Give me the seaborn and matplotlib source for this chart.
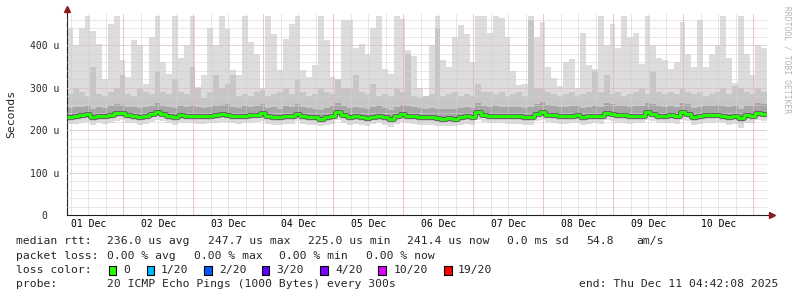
import numpy as np
import pandas as pd
import matplotlib
matplotlib.use("Agg")
import matplotlib.pyplot as plt
import matplotlib.dates as mdates
from matplotlib.patches import Rectangle
from matplotlib.ticker import MultipleLocator, FixedLocator
import seaborn as sns

# ---------------- data ----------------
start_time = "2025-12-01 04:42:08"
step = "2h"

# median rtt per 2-hour bin (microseconds)
median_rtt = [
    231, 233, 235, 238, 231, 234, 233, 236, 241, 241, 236, 234, 230, 233, 239, 242, 239, 234, 231, 236, 234, 234, 233, 233,
    234, 236, 238, 237, 234, 233, 234, 235, 237, 241, 233, 231, 230, 233, 233, 239, 233, 231, 230, 227, 231, 233, 242, 235,
    231, 233, 231, 228, 232, 234, 231, 226, 233, 238, 234, 233, 231, 230, 230, 228, 227, 228, 227, 230, 233, 231, 242, 237,
    234, 234, 234, 233, 233, 233, 230, 231, 239, 243, 237, 236, 233, 233, 234, 236, 231, 233, 234, 233, 241, 239, 236, 236,
    233, 234, 234, 242, 239, 234, 234, 236, 233, 242, 239, 231, 233, 236, 236, 237, 234, 231, 233, 228, 236, 234, 241, 239,
]
# slowest ping (top of the light smoke)
ping_max = [
    440, 400, 440, 470, 435, 404, 321, 451, 470, 365, 325, 412, 400, 310, 420, 470, 361, 333, 470, 370, 400, 470, 302, 330,
    440, 400, 470, 439, 341, 330, 470, 408, 380, 296, 470, 427, 341, 416, 451, 470, 341, 325, 353, 470, 412, 325, 314, 459,
    460, 395, 404, 380, 440, 470, 345, 333, 470, 463, 388, 376, 300, 280, 400, 470, 365, 350, 420, 447, 427, 360, 470, 470,
    430, 470, 465, 420, 340, 307, 310, 470, 420, 455, 350, 323, 305, 360, 369, 300, 430, 353, 345, 470, 400, 451, 395, 470,
    420, 430, 355, 470, 400, 370, 365, 345, 360, 455, 380, 350, 460, 350, 380, 400, 470, 370, 312, 470, 380, 330, 400, 395,
]
# upper edge of the medium smoke
ping_hi2 = [
    285, 300, 290, 280, 350, 285, 280, 290, 300, 330, 285, 280, 300, 290, 285, 340, 290, 285, 320, 290, 285, 350, 300, 275,
    290, 330, 300, 310, 330, 280, 285, 280, 290, 295, 280, 285, 290, 300, 285, 320, 290, 280, 285, 300, 290, 285, 320, 300,
    300, 330, 290, 285, 310, 280, 285, 280, 300, 290, 380, 280, 275, 280, 285, 440, 280, 285, 290, 280, 285, 280, 310, 290,
    290, 285, 290, 280, 285, 290, 280, 460, 300, 300, 290, 285, 280, 285, 290, 280, 285, 290, 340, 290, 330, 285, 290, 280,
    285, 290, 300, 285, 340, 290, 285, 290, 285, 300, 290, 285, 290, 280, 285, 290, 300, 285, 305, 300, 290, 285, 300, 290,
]
# upper edge of the dark smoke
ping_hi3 = [
    252, 255, 254, 258, 250, 255, 252, 256, 262, 260, 255, 254, 252, 255, 258, 263, 258, 254, 252, 256, 255, 256, 254, 252,
    255, 258, 260, 262, 255, 252, 256, 255, 258, 262, 252, 254, 250, 256, 255, 262, 254, 252, 250, 248, 252, 256, 265, 258,
    252, 255, 252, 250, 254, 256, 252, 248, 255, 260, 256, 254, 252, 250, 252, 250, 249, 250, 249, 252, 255, 252, 265, 258,
    255, 256, 255, 254, 255, 254, 252, 254, 262, 266, 260, 258, 255, 254, 256, 258, 252, 255, 258, 255, 263, 262, 258, 257,
    255, 256, 256, 264, 262, 256, 255, 258, 255, 265, 262, 252, 255, 258, 258, 260, 256, 254, 256, 250, 258, 256, 265, 262,
]
# lower edge of the dark smoke
ping_lo3 = [
    226, 228, 230, 233, 226, 229, 228, 231, 236, 236, 231, 229, 225, 228, 234, 237, 234, 229, 226, 231, 229, 229, 228, 228,
    229, 231, 233, 232, 229, 228, 229, 230, 232, 236, 228, 226, 225, 228, 228, 234, 228, 226, 225, 222, 226, 228, 237, 230,
    226, 228, 226, 223, 227, 229, 226, 221, 228, 233, 229, 228, 226, 225, 225, 223, 222, 223, 222, 225, 228, 226, 237, 232,
    229, 229, 229, 228, 228, 228, 225, 226, 234, 238, 232, 231, 228, 228, 229, 231, 226, 228, 229, 228, 236, 234, 231, 231,
    228, 229, 229, 237, 234, 229, 229, 231, 228, 237, 234, 226, 228, 231, 231, 232, 229, 226, 228, 221, 231, 229, 236, 234,
]
# lower edge of the medium smoke
ping_lo2 = [
    222, 224, 226, 229, 222, 225, 224, 227, 232, 232, 227, 225, 221, 224, 230, 233, 230, 225, 222, 227, 225, 225, 224, 224,
    225, 227, 229, 228, 225, 224, 225, 226, 228, 232, 224, 222, 221, 224, 224, 230, 224, 222, 221, 218, 222, 224, 233, 226,
    222, 224, 222, 219, 223, 225, 222, 217, 224, 229, 225, 224, 222, 221, 221, 219, 218, 219, 218, 221, 224, 222, 233, 228,
    225, 225, 225, 224, 224, 224, 221, 222, 230, 234, 228, 227, 224, 224, 225, 227, 222, 224, 225, 224, 232, 230, 227, 227,
    224, 225, 225, 233, 230, 225, 225, 227, 224, 233, 230, 222, 224, 227, 227, 228, 225, 222, 224, 217, 227, 225, 232, 230,
]
# fastest ping (bottom of the light smoke)
ping_min = [
    214, 215, 217, 220, 213, 216, 215, 218, 222, 223, 218, 216, 212, 215, 220, 224, 221, 216, 213, 218, 216, 216, 215, 215,
    216, 218, 220, 219, 216, 215, 216, 217, 219, 222, 215, 213, 212, 215, 215, 221, 215, 213, 212, 209, 213, 215, 223, 217,
    213, 215, 213, 210, 214, 216, 213, 208, 215, 220, 216, 215, 213, 212, 212, 210, 209, 210, 209, 212, 215, 213, 224, 219,
    216, 216, 216, 215, 215, 215, 212, 213, 221, 225, 219, 218, 215, 215, 216, 218, 213, 215, 216, 215, 223, 221, 218, 218,
    215, 216, 216, 224, 221, 216, 216, 218, 215, 224, 221, 213, 215, 218, 218, 219, 216, 213, 215, 206, 218, 216, 223, 221,
]

day_labels = ["01 Dec", "02 Dec", "03 Dec", "04 Dec", "05 Dec",
              "06 Dec", "07 Dec", "08 Dec", "09 Dec", "10 Dec"]
y_ticks = [0, 100, 200, 300, 400]
y_tick_labels = ["0  ", "100 u", "200 u", "300 u", "400 u"]

rtt_stats = ["median rtt:", "236.0 us avg", "247.7 us max", "225.0 us min",
             "241.4 us now", "0.0 ms sd", "54.8", "am/s"]
loss_stats = ["packet loss:", "0.00 % avg", "0.00 % max", "0.00 % min", "0.00 % now"]
loss_labels = ["0", "1/20", "2/20", "3/20", "4/20", "10/20", "19/20"]
loss_colors = ["#26ff00", "#00b8ff", "#0059ff", "#5e00ff", "#7e00ff", "#dd00ff", "#ff0000"]
probe_text = "20 ICMP Echo Pings (1000 Bytes) every 300s"
end_text = "end: Thu Dec 11 04:42:08 2025"

n = len(median_rtt)
for arr in (ping_max, ping_hi2, ping_hi3, ping_lo3, ping_lo2, ping_min):
    assert len(arr) == n

# ---------------- figure ----------------
sns.set_style("white")
MONO = ["DejaVu Sans Mono"]
plt.rcParams["font.family"] = MONO

W, H = 797, 297
fig = plt.figure(figsize=(W / 100, H / 100), dpi=100)
ax_l, ax_r, ax_t, ax_b = 67, 767, 14, 215
ax = fig.add_axes([ax_l / W, 1 - ax_b / H, (ax_r - ax_l) / W, (ax_b - ax_t) / H])

edges = pd.date_range(start_time, periods=n + 1, freq=step)

def ext(a):
    return np.append(np.asarray(a, float), a[-1])

ax.fill_between(edges, ext(ping_min), ext(ping_max), step="post", color="#dcdcdc", lw=0, zorder=1)
ax.fill_between(edges, ext(ping_lo2), ext(ping_hi2), step="post", color="#c6c6c6", lw=0, zorder=1.1)
ax.fill_between(edges, ext(ping_lo3), ext(ping_hi3), step="post", color="#a6a6a6", lw=0, zorder=1.2)

df = pd.DataFrame({"time": edges, "rtt": ext(median_rtt)})
sns.lineplot(data=df, x="time", y="rtt", ax=ax, estimator=None, drawstyle="steps-post",
             color="#5c5c5c", lw=3.4, zorder=3, solid_capstyle="butt")
sns.lineplot(data=df, x="time", y="rtt", ax=ax, estimator=None, drawstyle="steps-post",
             color="#22ff00", lw=2.1, zorder=3.1, solid_capstyle="butt")

ax.set_xlim(edges[0], edges[-1])
ax.set_ylim(0, 474)

# x axis: labels at noon, grid every 6h, red at midnight
noons = pd.date_range("2025-12-01 12:00", periods=len(day_labels), freq="D")
ax.set_xticks(noons)
ax.set_xticklabels(day_labels)
ax.xaxis.set_minor_locator(mdates.HourLocator(byhour=[0, 6, 12, 18]))
ax.xaxis.remove_overlapping_locs = False
ax.yaxis.set_major_locator(FixedLocator(y_ticks))
ax.set_yticklabels(y_tick_labels)
ax.yaxis.set_minor_locator(MultipleLocator(20))
ax.yaxis.remove_overlapping_locs = False

ax.set_axisbelow(False)
dot = (0, (1, 1))
ax.grid(False)
ax.grid(which="minor", axis="both", color="#d0d0d0", lw=0.72, ls=dot)
ax.grid(which="major", axis="y", color="#f0a8a8", lw=0.72, ls=dot)
midnights = pd.date_range("2025-12-02", "2025-12-11", freq="D")
for m in midnights:
    ax.axvline(m, color="#f0a8a8", lw=0.72, ls=dot, zorder=2.6)

ax.tick_params(axis="x", which="major", length=0, pad=3.2, labelsize=7, colors="black")
ax.tick_params(axis="x", which="minor", length=2, width=0.7, color="#b0b0b0", direction="out")
ax.tick_params(axis="y", which="major", length=0, pad=5.3, labelsize=7)
ax.tick_params(axis="y", which="minor", length=2, width=0.7, color="#b0b0b0", direction="out")
ax.set_xlabel("")
ax.set_ylabel("")

for s in ("top", "right"):
    ax.spines[s].set_visible(False)
for s in ("left", "bottom"):
    ax.spines[s].set_color("#202020")
    ax.spines[s].set_linewidth(0.8)

# axis arrows
pw, ph = ax_r - ax_l, ax_b - ax_t
ax.plot([0, 0], [1, 1 + 4 / ph], transform=ax.transAxes, color="#202020", lw=0.8, clip_on=False)
ax.plot([1, 1 + 4 / pw], [0, 0], transform=ax.transAxes, color="#202020", lw=0.8, clip_on=False)
ax.plot([0], [1 + 5 / ph], marker="^", ms=4.2, color="#8b1c1c", transform=ax.transAxes, clip_on=False, zorder=5)
ax.plot([1 + 5 / pw], [0], marker=">", ms=4.2, color="#8b1c1c", transform=ax.transAxes, clip_on=False, zorder=5)

# y label
fig.text(11 / W, 1 - 114 / H, "Seconds", rotation=90, ha="center", va="center", fontsize=8.2)

# watermark
fig.text(787 / W, 1 - 60 / H, "RRDTOOL / TOBI OETIKER", rotation=-90, ha="center", va="center",
         fontsize=5.8, color="#b4b4b4")

def ftext(x, y, s, **kw):
    fig.text(x / W, 1 - y / H, s, ha="left", va="center", fontsize=8.2, **kw)

rtt_x = [16, 107, 207.5, 307.5, 407, 507, 586, 636]
for x, s in zip(rtt_x, rtt_stats):
    ftext(x, 241, s)
loss_x = [16, 107, 193.5, 279, 365.5]
for x, s in zip(loss_x, loss_stats):
    ftext(x, 256, s)

ftext(16, 270, "loss color:")
box_x = [108.5, 146.5, 204, 261.5, 320, 378, 444]
lab_x = [123.5, 161, 219, 276.5, 335, 393.5, 458]
for bx, lx, c, s in zip(box_x, lab_x, loss_colors, loss_labels):
    fig.add_artist(Rectangle((bx / W, 1 - 274.5 / H), 7.5 / W, 9 / H, transform=fig.transFigure,
                             facecolor=c, edgecolor="black", lw=0.8))
    ftext(lx, 270, s)

ftext(16, 284, "probe:")
ftext(107, 284, probe_text)
ftext(579, 284, end_text)

fig.savefig("out.png", dpi=100)
